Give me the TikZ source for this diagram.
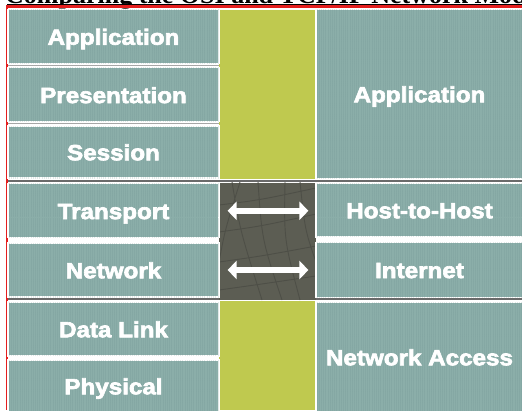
\documentclass[tikz,border=0pt]{standalone}
\usepackage{fontspec}
\usetikzlibrary{arrows.meta,patterns.meta}
\newfontfamily\lbl[FakeStretch=1.1,FakeBold=3]{Liberation Sans Bold}
\newfontfamily\ttl{Liberation Serif Bold}
\definecolor{boxfill}{HTML}{8BAEA9}
\definecolor{boxgrain}{HTML}{6F9490}
\definecolor{lime}{HTML}{BFC94F}
\definecolor{slate}{HTML}{5C5D53}
\definecolor{mesh}{HTML}{4E4F47}
\definecolor{divider}{HTML}{6A6A6A}
\definecolor{rule}{HTML}{E41E1E}
\tikzset{
  layer/.style={rectangle, fill=boxfill, draw=white, line width=1.2pt,
    text=white, inner sep=0pt, text height=16.5pt, text depth=0pt,
    font=\lbl\fontsize{22}{25}\selectfont,
    postaction={pattern={Lines[angle=90,distance=2.2pt,line width=0.3pt]},
      pattern color=boxgrain, opacity=0.2}},
  twoway/.style={white, line width=6pt,
    {Triangle[width=18pt,length=9pt]}-{Triangle[width=18pt,length=9pt]},
    shorten <=8pt, shorten >=7pt}
}
\begin{document}
\begin{tikzpicture}[x=1pt,y=-1pt]
\useasboundingbox (0,0) rectangle (522,410);
\clip (0,0) rectangle (522,410);
\fill[white] (0,0) rectangle (522,410);

% heading, only its lower edge lies inside the frame
\node[anchor=base west, font=\ttl\fontsize{26}{30}\selectfont, inner sep=0pt]
  (heading) at (5,3) {Comparing the OSI and TCP/IP Network Models};

% frame rules
\fill[black] (7,3.8) rectangle (522,5.4);
\fill[rule] (7,5.4) rectangle (522,7.6);
\fill[rule] (5.8,5.4) rectangle (8,410);

% group dividers
\fill[divider] (8,179.8) rectangle (522,182.4);
\fill[divider] (8,297.8) rectangle (522,300.4);
\draw[gray!70, line width=0.8pt] (8,65.5) -- (219,65.5);
\draw[gray!70, line width=0.8pt] (8,123.8) -- (219,123.8);

% middle column
\fill[lime] (219,9.5) rectangle (316,179.2);
\fill[slate] (219,182.6) rectangle (316,300);
\fill[lime] (219,301) rectangle (316,410);
\begin{scope}
  \clip (219,182.6) rectangle (316,300);
  \draw[mesh, line width=0.9pt]
    (232,182) .. controls (240,230) .. (262,300)
    (258,182) .. controls (262,240) .. (282,300)
    (285,182) .. controls (284,240) .. (300,300)
    (219,205) .. controls (260,200) .. (316,188)
    (219,232) .. controls (262,226) .. (316,214)
    (219,262) .. controls (262,256) .. (316,246)
    (219,290) .. controls (262,284) .. (316,276)
    (240,182) .. controls (225,230) .. (219,262)
    (300,182) .. controls (305,230) .. (316,262);
\end{scope}

% OSI layers
\node[layer, minimum width=211pt, minimum height=54pt] (osiapp)  at (113.5,36.5) {Application};
\node[layer, minimum width=211pt, minimum height=54pt] (osipres) at (113.5,94.8) {Presentation};
\node[layer, minimum width=211pt, minimum height=52pt] (osisess) at (113.5,152)  {Session};
\node[layer, minimum width=211pt, minimum height=54pt] (ositran) at (113.5,210.8) {Transport};
\node[layer, minimum width=211pt, minimum height=54pt] (osinet)  at (113.5,270)  {Network};
\node[layer, minimum width=211pt, minimum height=54pt] (osidata) at (113.5,329)  {Data Link};
\node[layer, minimum width=211pt, minimum height=52pt] (osiphys) at (113.5,386)  {Physical};

% TCP/IP layers
\node[layer, minimum width=207pt, minimum height=169pt] (tcpapp)  at (419.5,94)  {Application};
\node[layer, minimum width=207pt, minimum height=54pt]  (tcphost) at (419.5,210)  {Host-to-Host};
\node[layer, minimum width=207pt, minimum height=55pt]  (tcpnet)  at (419.5,269.8) {Internet};
\node[layer, minimum width=207pt, minimum height=110pt] (tcpacc)  at (419.5,357)  {Network Access};

% correspondences
\draw[twoway] (ositran.east) -- (tcphost.west |- ositran.east);
\draw[twoway] (osinet.east) -- (tcpnet.west |- osinet.east);
\end{tikzpicture}
\end{document}
